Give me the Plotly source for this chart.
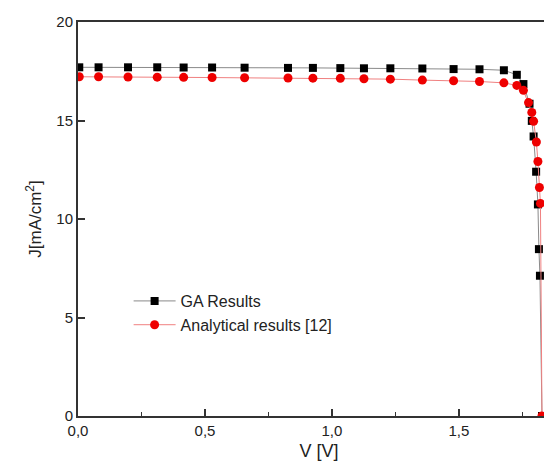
import plotly.graph_objects as go

# GA results (black squares)
ga_v = [0.005, 0.081, 0.197, 0.312, 0.416, 0.528, 0.656, 0.827, 0.925, 1.033, 1.126, 1.230,
        1.356, 1.479, 1.581, 1.677, 1.728, 1.754, 1.778, 1.787, 1.794, 1.804, 1.811, 1.815,
        1.819, 1.827]
ga_j = [17.70, 17.70, 17.70, 17.70, 17.69, 17.69, 17.68, 17.67, 17.67, 17.66, 17.65, 17.65,
        17.64, 17.61, 17.60, 17.55, 17.32, 16.85, 15.85, 14.98, 14.19, 12.40, 10.74, 8.47,
        7.12, 0.0]

# Analytical results [12] (red circles)
an_v = [0.005, 0.081, 0.197, 0.312, 0.416, 0.528, 0.656, 0.827, 0.925, 1.033, 1.126, 1.230,
        1.356, 1.479, 1.581, 1.677, 1.728, 1.754, 1.774, 1.787, 1.794, 1.805, 1.811, 1.817,
        1.821, 1.827]
an_j = [17.22, 17.22, 17.21, 17.20, 17.19, 17.18, 17.17, 17.16, 17.15, 17.14, 17.12, 17.10,
        17.05, 17.02, 16.98, 16.91, 16.78, 16.53, 15.91, 15.41, 14.96, 13.91, 12.92, 11.60,
        10.79, 0.0]

x_ticks = [0.0, 0.5, 1.0, 1.5]
y_ticks = [0, 5, 10, 15, 20]

fig = go.Figure()
fig.add_trace(go.Scatter(
    x=ga_v, y=ga_j, mode="lines+markers", name="GA Results",
    line=dict(color="#8a8a8a", width=1),
    marker=dict(symbol="square", size=8, color="black"),
))
fig.add_trace(go.Scatter(
    x=an_v, y=an_j, mode="lines+markers", name="Analytical results [12]",
    line=dict(color="#f08080", width=1),
    marker=dict(symbol="circle", size=9, color="#ee0000"),
))

axis_font = dict(family="Liberation Sans, Arial, sans-serif", size=15, color="#222")

fig.update_layout(
    width=552, height=461,
    margin=dict(l=70, r=0, t=14, b=53),
    paper_bgcolor="white", plot_bgcolor="white",
    separators=",.",
    font=dict(family="Liberation Sans, Arial, sans-serif", size=15, color="#222"),
    showlegend=True,
    legend=dict(
        x=0.105, y=0.335, xanchor="left", yanchor="top",
        bgcolor="rgba(0,0,0,0)", font=dict(size=16, color="#222"),
        itemwidth=42, tracegroupgap=0,
    ),
    xaxis=dict(
        range=[0, 1.898], tickvals=x_ticks, tickformat=".1f",
        ticks="inside", ticklen=7, tickwidth=1.5, tickcolor="#333",
        showline=True, linecolor="#333", linewidth=2, mirror=True,
        showgrid=False, zeroline=False,
        minor=dict(dtick=0.25, ticks="inside", ticklen=4, tickwidth=1.2, tickcolor="#333"),
        tickfont=axis_font,
        title=dict(text="V [V]", font=dict(size=18, color="#222"), standoff=6),
    ),
    yaxis=dict(
        range=[0, 20], tickvals=y_ticks,
        ticks="inside", ticklen=7, tickwidth=1.5, tickcolor="#333",
        showline=True, linecolor="#333", linewidth=2, mirror=False,
        showgrid=False, zeroline=False,
        tickfont=axis_font,
        title=dict(text="J[mA/cm<sup>2</sup>]", font=dict(size=17, color="#222"), standoff=10),
    ),
)

fig.write_html("out.html")
